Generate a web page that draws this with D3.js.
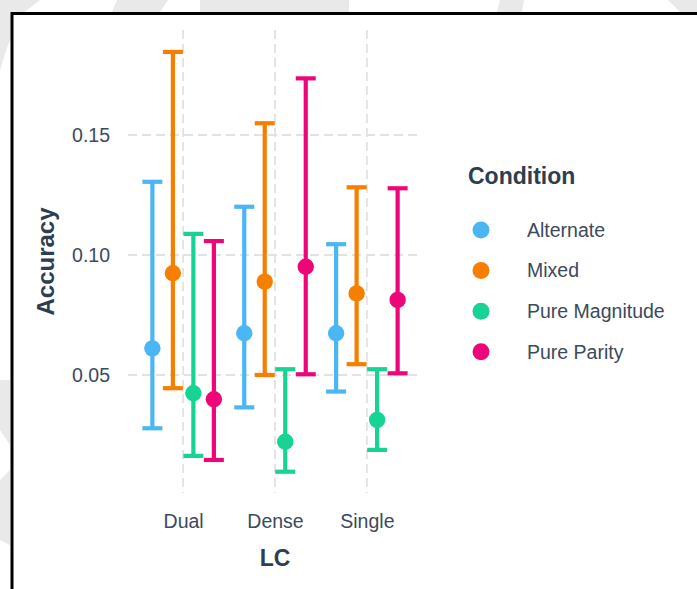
<!DOCTYPE html>
<html>
<head>
<meta charset="utf-8">
<script src="https://cdn.jsdelivr.net/npm/d3@7"></script>
<style>
  html, body { margin: 0; padding: 0; background: #ffffff; }
  svg { display: block; }
  text { font-family: "Liberation Sans", Arial, sans-serif; }
</style>
</head>
<body>
<svg id="chart" width="697" height="589"></svg>
<script>
// Categories and series
const lcLevels = ["Dual", "Dense", "Single"];
const conditions = ["Alternate", "Mixed", "Pure Magnitude", "Pure Parity"];
const conditionColors = ["#4bb6f4", "#f77f00", "#17d394", "#ee0679"];

// Mean accuracy per condition, one value per LC level (Dual, Dense, Single)
const meanAlternate     = [0.0611, 0.0674, 0.0674];
const meanMixed         = [0.0924, 0.0889, 0.0840];
const meanPureMagnitude = [0.0424, 0.0222, 0.0313];
const meanPureParity    = [0.0399, 0.0951, 0.0813];

// Lower and upper interval bounds
const lowAlternate      = [0.0278, 0.0365, 0.0431];
const highAlternate     = [0.1305, 0.1201, 0.1045];
const lowMixed          = [0.0445, 0.0500, 0.0545];
const highMixed         = [0.1846, 0.1549, 0.1282];
const lowPureMagnitude  = [0.0163, 0.0097, 0.0188];
const highPureMagnitude = [0.1088, 0.0524, 0.0524];
const lowPureParity     = [0.0146, 0.0503, 0.0507];
const highPureParity    = [0.1058, 0.1736, 0.1278];

const yTicks = [0.05, 0.10, 0.15];

const means = [meanAlternate, meanMixed, meanPureMagnitude, meanPureParity];
const lows  = [lowAlternate, lowMixed, lowPureMagnitude, lowPureParity];
const highs = [highAlternate, highMixed, highPureMagnitude, highPureParity];

const rows = [];
conditions.forEach((c, ci) => {
  lcLevels.forEach((lc, li) => {
    rows.push({ lc, condition: c, ci, mean: means[ci][li], low: lows[ci][li], high: highs[ci][li] });
  });
});

const svg = d3.select("#chart");
const W = 697, H = 589;
const labelSize = 19.5, titleSize = 23;

// faint backdrop shapes around the framed area
const backdrop = svg.append("g").attr("fill", "#e9e9e9");
[
  [[0,0],[40,0],[22,14],[8,45],[0,70]],
  [[117,0],[168,0],[160,12],[112,12]],
  [[200,0],[349,0],[349,12],[200,12]],
  [[500,0],[524,0],[522,12],[497,12]],
  [[668,0],[697,0],[697,12],[680,12]],
  [[0,380],[10,380],[10,445],[0,430]],
  [[0,480],[10,470],[10,545],[0,540]]
].forEach(pts => backdrop.append("polygon").attr("points", pts.map(p => p.join(",")).join(" ")));

// white card with a black frame
svg.append("rect")
  .attr("x", 12).attr("y", 13.5)
  .attr("width", W + 20).attr("height", H + 20)
  .attr("fill", "#ffffff")
  .attr("stroke", "#000000").attr("stroke-width", 3);

// panel geometry
const panel = { left: 128, right: 422, top: 30, bottom: 493 };

const x = d3.scalePoint()
  .domain(lcLevels)
  .range([panel.left, panel.right])
  .padding(0.6);

const y = d3.scaleLinear()
  .domain([0.00083, 0.19375])
  .range([panel.bottom, panel.top]);

const dodge = d3.scaleBand()
  .domain(conditions)
  .range([-41, 41]);

const color = d3.scaleOrdinal().domain(conditions).range(conditionColors);

const gridStyle = g => g
  .attr("stroke", "#e2e2e2")
  .attr("stroke-width", 1.8)
  .attr("stroke-dasharray", "9,5");

// horizontal grid
svg.append("g").call(gridStyle)
  .selectAll("line").data(yTicks).join("line")
  .attr("x1", panel.left).attr("x2", panel.right)
  .attr("y1", d => y(d)).attr("y2", d => y(d));

// vertical grid
svg.append("g").call(gridStyle)
  .selectAll("line").data(lcLevels).join("line")
  .attr("x1", d => x(d)).attr("x2", d => x(d))
  .attr("y1", panel.top).attr("y2", panel.bottom);

// y axis labels
const yAxis = d3.axisLeft(y).tickValues(yTicks).tickFormat(d3.format(".2f")).tickSize(0).tickPadding(0);
svg.append("g")
  .attr("transform", `translate(110,0)`)
  .call(yAxis)
  .call(g => g.select(".domain").remove())
  .call(g => g.selectAll("text")
    .attr("font-size", labelSize)
    .attr("fill", "#3b4a5c")
    .attr("font-family", "'Liberation Sans', Arial, sans-serif"));

// x axis labels
const xAxis = d3.axisBottom(x).tickSize(0).tickPadding(0);
svg.append("g")
  .attr("transform", `translate(0,514)`)
  .call(xAxis)
  .call(g => g.select(".domain").remove())
  .call(g => g.selectAll("text")
    .attr("dy", "0.71em")
    .attr("font-size", labelSize)
    .attr("fill", "#3b4a5c")
    .attr("font-family", "'Liberation Sans', Arial, sans-serif"));

// axis titles
svg.append("text")
  .attr("x", x("Dense")).attr("y", 566)
  .attr("text-anchor", "middle")
  .attr("font-size", titleSize).attr("font-weight", "bold")
  .attr("fill", "#2c3e50")
  .text("LC");

svg.append("text")
  .attr("transform", `translate(54,${(panel.top + panel.bottom) / 2}) rotate(-90)`)
  .attr("text-anchor", "middle")
  .attr("font-size", 24).attr("font-weight", "bold")
  .attr("fill", "#2c3e50")
  .text("Accuracy");

// error bars
const capHalf = 10;
const bars = svg.append("g")
  .selectAll("g").data(rows).join("g")
  .attr("transform", d => `translate(${x(d.lc) + dodge(d.condition) + dodge.bandwidth() / 2},0)`)
  .attr("stroke", d => color(d.condition))
  .attr("stroke-width", 4.2);

bars.append("line")
  .attr("x1", 0).attr("x2", 0)
  .attr("y1", d => y(d.high)).attr("y2", d => y(d.low));
bars.append("line")
  .attr("x1", -capHalf).attr("x2", capHalf)
  .attr("y1", d => y(d.high)).attr("y2", d => y(d.high));
bars.append("line")
  .attr("x1", -capHalf).attr("x2", capHalf)
  .attr("y1", d => y(d.low)).attr("y2", d => y(d.low));

// mean points
svg.append("g")
  .selectAll("circle").data(rows).join("circle")
  .attr("cx", d => x(d.lc) + dodge(d.condition) + dodge.bandwidth() / 2)
  .attr("cy", d => y(d.mean))
  .attr("r", 8.2)
  .attr("fill", d => color(d.condition));

// legend
const legend = svg.append("g").attr("transform", "translate(468,0)");
legend.append("text")
  .attr("x", 0).attr("y", 184)
  .attr("font-size", titleSize).attr("font-weight", "bold")
  .attr("fill", "#2c3e50")
  .text("Condition");

const item = legend.selectAll("g.item").data(conditions).join("g")
  .attr("class", "item")
  .attr("transform", (d, i) => `translate(0,${230 + i * 40.6})`);
item.append("circle")
  .attr("cx", 13).attr("cy", 0).attr("r", 8.5)
  .attr("fill", d => color(d));
item.append("text")
  .attr("x", 59).attr("y", 0).attr("dy", "0.35em")
  .attr("font-size", labelSize)
  .attr("fill", "#3b4a5c")
  .text(d => d);
</script>
</body>
</html>
